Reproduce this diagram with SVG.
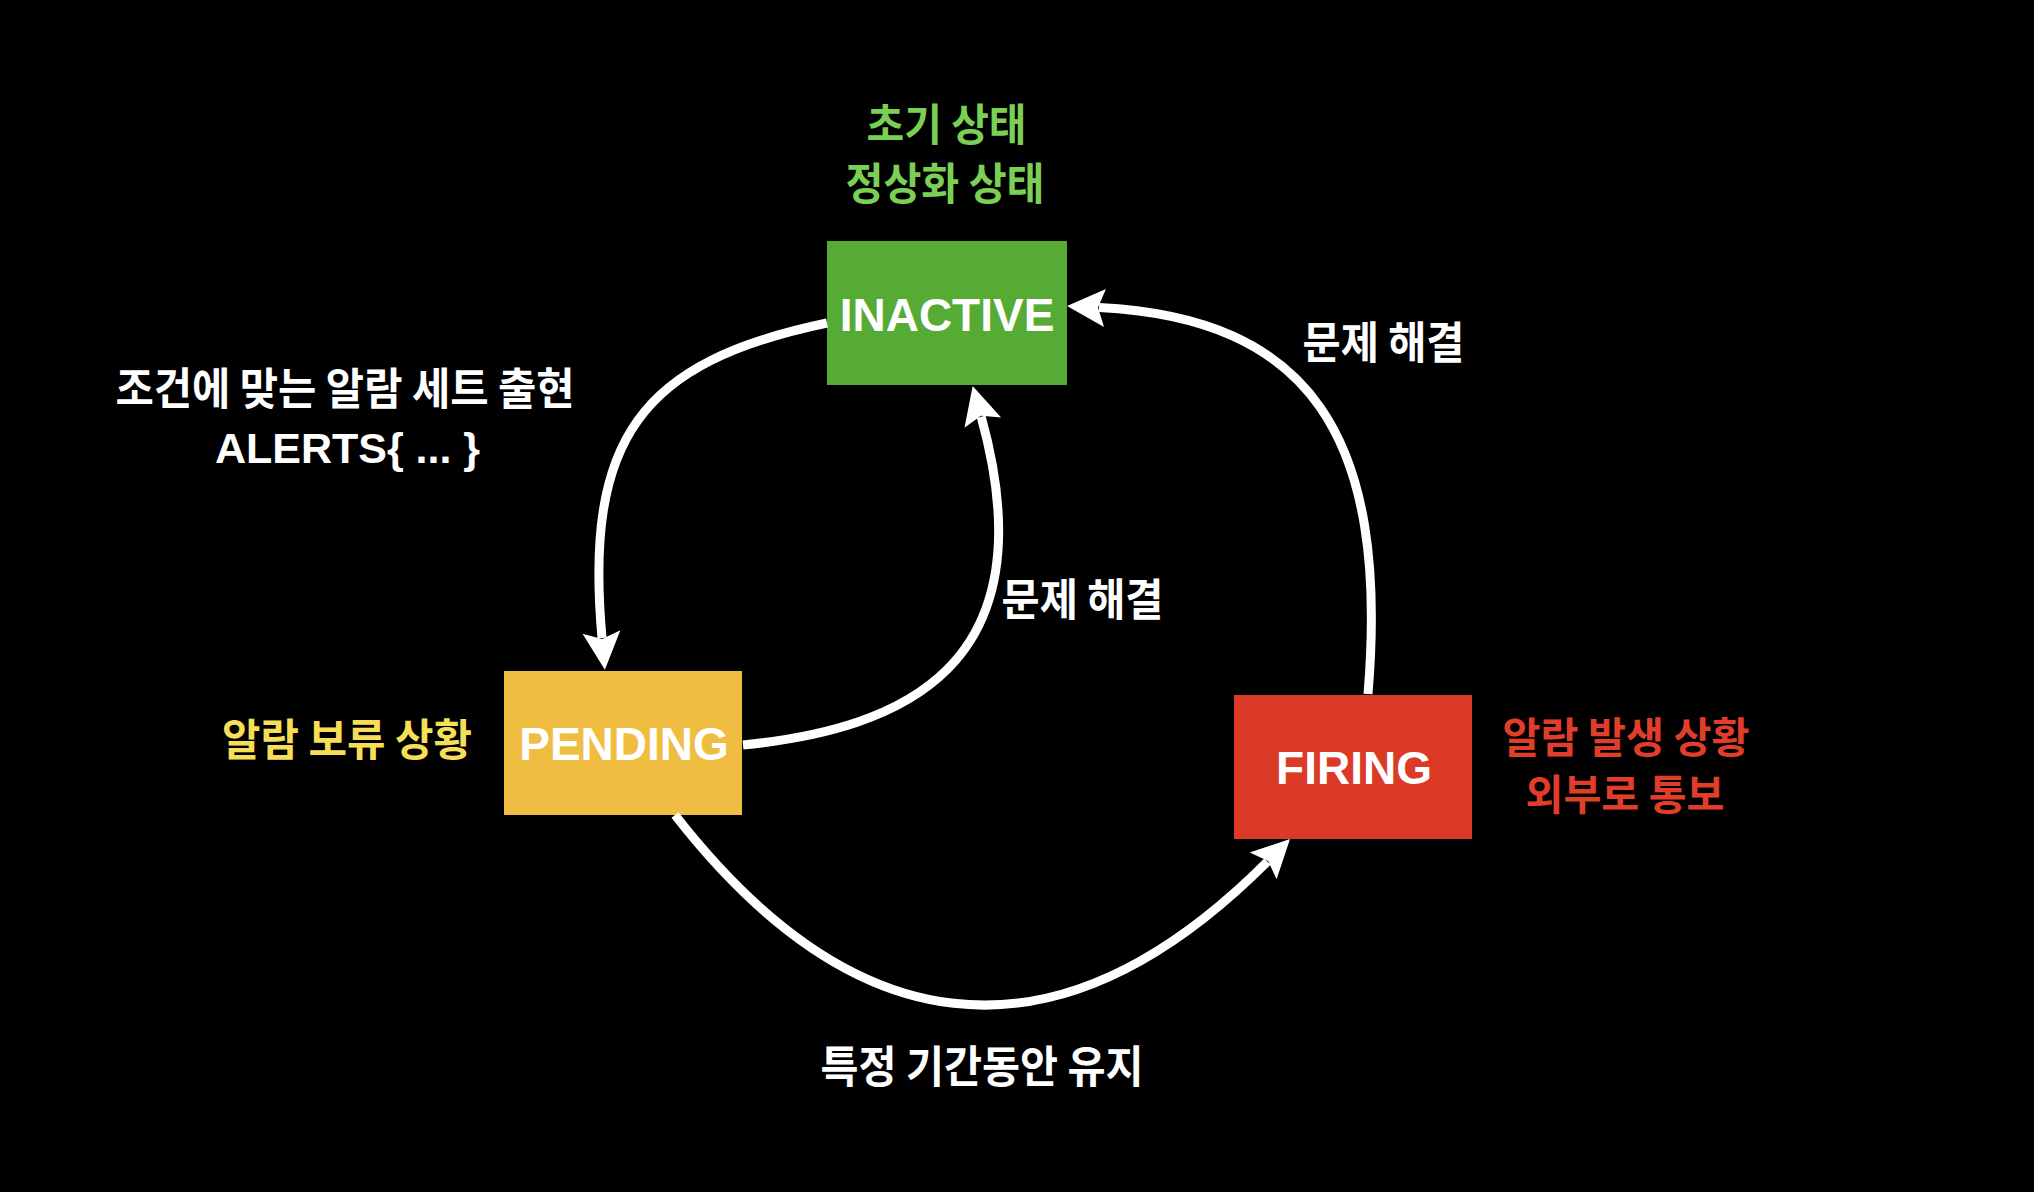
<svg xmlns="http://www.w3.org/2000/svg" width="2034" height="1192" viewBox="0 0 2034 1192">
  <style>
    .box-label { font-family: "Liberation Sans", Arial, sans-serif; font-weight: bold; font-size: 46px; fill: #ffffff; text-anchor: middle; }
    .ko { font-family: "Noto Sans CJK KR", "Noto Sans", sans-serif; font-weight: bold; font-size: 44px; text-anchor: middle; }
    .ko-s { font-size: 42px; }
    .white { fill: #ffffff; }
    .green { fill: #7BCF55; }
    .yellow { fill: #F6DE57; }
    .red { fill: #E03E2B; }
    .latin { font-family: "Liberation Sans", Arial, sans-serif; font-weight: bold; font-size: 43px; fill: #ffffff; text-anchor: middle; }
    .edge { fill: none; stroke: #ffffff; stroke-width: 9; stroke-linecap: butt; marker-end: url(#arrow); }
  </style>
  <defs>
    <marker id="arrow" markerUnits="userSpaceOnUse" markerWidth="40" markerHeight="40" viewBox="0 0 40 40" refX="6" refY="20" orient="auto">
      <path d="M0,1 L38,20 L0,39 L7,20 Z" fill="#ffffff"/>
    </marker>
  </defs>
  <rect x="0" y="0" width="2034" height="1192" fill="#000000"/>

  <g id="inactive">
    <rect x="827" y="241" width="240" height="144" fill="#55AB34"/>
    <text class="box-label" x="947" y="331">INACTIVE</text>
  </g>
  <g id="pending">
    <rect x="504" y="671" width="238" height="144" fill="#EFBD42"/>
    <text class="box-label" x="624" y="760">PENDING</text>
  </g>
  <g id="firing">
    <rect x="1234" y="695" width="238" height="144" fill="#DB3A27"/>
    <text class="box-label" x="1354" y="784">FIRING</text>
  </g>

  <g id="labels">
    <text class="ko green" x="946.5" y="141" textLength="160" lengthAdjust="spacingAndGlyphs">초기 상태</text>
    <text class="ko green" x="945" y="200" textLength="199" lengthAdjust="spacingAndGlyphs">정상화 상태</text>
    <text class="ko white" x="345" y="405" textLength="459" lengthAdjust="spacingAndGlyphs">조건에 맞는 알람 세트 출현</text>
    <text class="latin" x="347.5" y="463">ALERTS{ ... }</text>
    <text class="ko yellow" x="347" y="756" textLength="250" lengthAdjust="spacingAndGlyphs">알람 보류 상황</text>
    <text class="ko ko-s red" x="1626" y="753" textLength="247" lengthAdjust="spacingAndGlyphs">알람 발생 상황</text>
    <text class="ko ko-s red" x="1625" y="810" textLength="199" lengthAdjust="spacingAndGlyphs">외부로 통보</text>
    <text class="ko white" x="1383.5" y="359" textLength="162" lengthAdjust="spacingAndGlyphs">문제 해결</text>
    <text class="ko white" x="1082.5" y="616" textLength="162" lengthAdjust="spacingAndGlyphs">문제 해결</text>
    <text class="ko white" x="982" y="1083" textLength="323" lengthAdjust="spacingAndGlyphs">특정 기간동안 유지</text>
  </g>

  <g id="connectors">
    <path class="edge" d="M827,323 C641,362 584,438 602,638"/>
    <path class="edge" d="M743,745 C902,729 1050.6,667.4 981.2,416.8"/>
    <path class="edge" d="M1368,694 C1389.6,434.8 1308.8,318.1 1099,307.6"/>
    <path class="edge" d="M675,815 C847.2,1035.9 1048.2,1080.8 1267.4,861.6"/>
  </g>
</svg>
